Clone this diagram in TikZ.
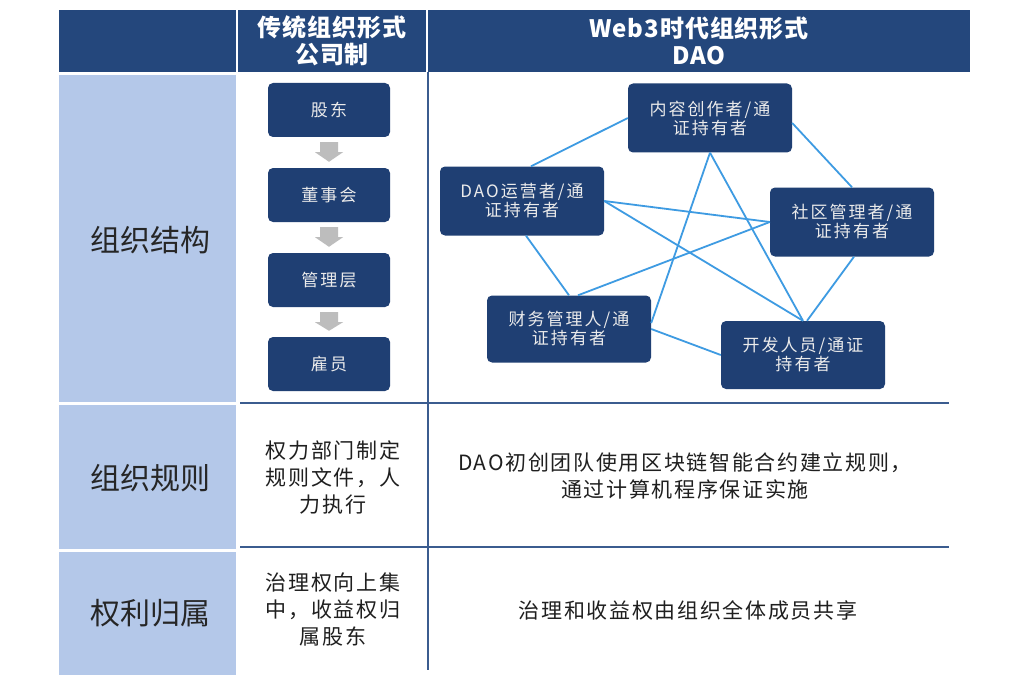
\documentclass[tikz,border=0pt]{standalone}
\usepackage{fontspec}
\setmainfont{Noto Sans CJK SC}
\newfontfamily\boxfont[LetterSpace=12]{Noto Sans CJK SC}
\newfontfamily\bodyfont[LetterSpace=8]{Noto Sans CJK SC}
\newfontfamily\hdrfont[LetterSpace=4]{Noto Sans CJK SC}
\usetikzlibrary{calc}
\definecolor{navy}{HTML}{24477C}
\definecolor{boxblue}{HTML}{1F3F73}
\definecolor{lightcol}{HTML}{B4C8E9}
\definecolor{linkblue}{HTML}{3E9BE2}
\definecolor{rulecol}{HTML}{3B5C8F}
\definecolor{arrowgray}{HTML}{BDBDBD}
\tikzset{
  orgbox/.style={fill=boxblue, rounded corners=5pt, text=white!92!black,
    font=\boxfont\fontsize{17}{19}\selectfont, align=center,
    minimum width=122pt, minimum height=54pt, inner sep=0pt},
  daobox/.style={orgbox, minimum width=164pt, minimum height=69pt},
  link/.style={draw=linkblue, line width=1.8pt},
  bodytext/.style={font=\bodyfont\fontsize{21}{27}\selectfont, align=center, text=black!88},
  rowlabel/.style={font=\fontsize{30}{32}\selectfont, text=black!85},
  hdrtext/.style={font=\hdrfont\bfseries\fontsize{24}{27}\selectfont, align=center, text=white},
  grayarrow/.style={fill=arrowgray, draw=none},
  tablerule/.style={draw=rulecol, line width=1.5pt}
}
\newcommand\downarrowbetween[2]{%
  \fill[grayarrow] ($(#1.south)+(-9,5)$) -- ($(#1.south)+(9,5)$) -- ($(#1.south)+(9,15)$)
    -- ($(#1.south)+(14,15)$) -- ($(#2.north)+(0,-6)$) -- ($(#1.south)+(-14,15)$)
    -- ($(#1.south)+(-9,15)$) -- cycle;}
\begin{document}
\begin{tikzpicture}[x=1pt,y=-1pt]
\useasboundingbox (0,0) rectangle (1028,690);
\fill[white] (0,0) rectangle (1028,690);
% header
\fill[navy] (59,10) rectangle (970,72);
\draw[white, line width=2.5pt] (237,10) -- (237,72);
\draw[white, line width=2.5pt] (427,10) -- (427,72);
% left column
\fill[lightcol] (59,75) rectangle (236,402);
\fill[lightcol] (59,405) rectangle (236,549);
\fill[lightcol] (59,552) rectangle (236,675);
% table rules
\draw[tablerule] (240,403) -- (949,403);
\draw[tablerule] (240,547) -- (949,547);
\draw[tablerule] (428,72) -- (428,670);
% header text
\node[hdrtext] (h2) at (332,41) {传统组织形式\\公司制};
\node[hdrtext] (h3) at (699,41) {Web3时代组织形式\\DAO};
% row labels
\node[rowlabel] (r1) at (150,240) {组织结构};
\node[rowlabel] (r2) at (150,478) {组织规则};
\node[rowlabel] (r3) at (150,613) {权利归属};
% company hierarchy
\node[orgbox] (s1) at (329,110) {股东};
\node[orgbox] (s2) at (329,195) {董事会};
\node[orgbox] (s3) at (329,280) {管理层};
\node[orgbox] (s4) at (329,364) {雇员};
\downarrowbetween{s1}{s2}
\downarrowbetween{s2}{s3}
\downarrowbetween{s3}{s4}
% DAO network
\node[daobox] (nc) at (710,118) {内容创作者/通\\证持有者};
\node[daobox] (op) at (522,201) {DAO运营者/通\\证持有者};
\node[daobox] (cm) at (852,222) {社区管理者/通\\证持有者};
\node[daobox, minimum height=67pt] (fin) at (569,329) {财务管理人/通\\证持有者};
\node[daobox, minimum height=68pt] (dev) at (803,355) {开发人员/通证\\持有者};
\draw[link] (nc.west) -- ($(op.north)+(9,0)$);
\draw[link] ($(nc.east)+(0,5)$) -- (cm.north);
\draw[link] (nc.south) -- ($(fin.east)+(0,-6)$);
\draw[link] (nc.south) -- (dev.north);
\draw[link] (op.east) -- (cm.west);
\draw[link] (op.east) -- (dev.north);
\draw[link] ($(op.south)+(4,0)$) -- (fin.north);
\draw[link] (cm.west) -- ($(fin.north)+(9,0)$);
\draw[link] ($(cm.south)+(2,0)$) -- ($(dev.north)+(4,0)$);
\draw[link] (fin.east) -- (dev.west);
% row 2 and 3 texts
\node[bodytext] (t21) at (333,477) {权力部门制定\\规则文件，人\\力执行};
\node[bodytext] (t22) at (685,476) {DAO初创团队使用区块链智能合约建立规则，\\通过计算机程序保证实施};
\node[bodytext] (t31) at (333,610) {治理权向上集\\中，收益权归\\属股东};
\node[bodytext] (t32) at (688,610) {治理和收益权由组织全体成员共享};
\end{tikzpicture}
\end{document}
